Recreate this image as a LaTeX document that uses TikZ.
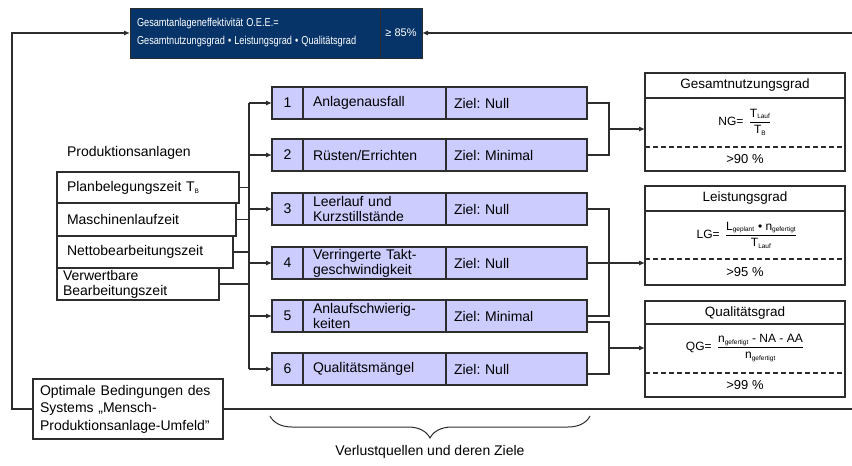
\documentclass[tikz,border=0pt]{standalone}
\usepackage{fontspec}
\usepackage{graphicx}
\setmainfont{Liberation Sans}
\usetikzlibrary{calc,decorations.pathreplacing,arrows.meta}
\definecolor{navy}{RGB}{6,52,104}
\definecolor{lav}{RGB}{204,204,255}
\definecolor{ln}{RGB}{45,45,45}
\newcommand\fsz[2]{\fontsize{#1}{#2}\selectfont}
\newcommand\sbs[1]{\mbox{\fsz{6.5}{7}#1}}
\frenchspacing
\begin{document}
\begin{tikzpicture}[x=1pt,y=-1pt,
  every node/.style={inner sep=0pt, outer sep=0pt},
  line/.style={draw=ln, line width=1.1pt},
  arr/.style={line, -{Latex[length=6pt,width=5pt]}},
  topbox/.style={draw=ln, line width=1pt, fill=navy, text=white, rectangle},
  wbox/.style={draw=ln, line width=1.1pt, fill=white, rectangle},
  lcell/.style={draw=ln, line width=1.1pt, fill=lav, rectangle, minimum height=32, anchor=north west, font=\fsz{14}{15}},
  dcell/.style={lcell, text width=123, inner xsep=10, align=left},
  zcell/.style={lcell, text width=125, inner xsep=8, align=left},
  ncell/.style={lcell, minimum width=31},
  lbox/.style={wbox, anchor=north west, align=left, font=\fsz{14}{15}},
  mtitle/.style={wbox, minimum width=200, minimum height=25, anchor=north west, font=\fsz{13.5}{15}},
  mbody/.style={wbox, minimum width=200, anchor=north west},
  ftext/.style={font=\fsz{12}{14}},
  vtext/.style={font=\fsz{13}{15}},
]
\useasboundingbox (0,0) rectangle (852,466);
\fill[white] (0,0) rectangle (852,466);

% top box
\node[topbox, minimum height=50, anchor=north west, text width=236, inner xsep=7, align=left, font=\fsz{11.5}{18}] (topL) at (130,8) {\scalebox{0.8}[1]{Gesamtanlageneffektivität O.E.E.=}\\\scalebox{0.8}[1]{Gesamtnutzungsgrad • Leistungsgrad • Qualitätsgrad}};
\node[topbox, minimum width=42, minimum height=50, anchor=north west, font=\fsz{11}{12}] (topR) at (380,8) {≥ 85\%};

% left side
\node[anchor=west, font=\fsz{14}{15}] (prod) at (67,153) {Produktionsanlagen};
\node[lbox, minimum height=31, text width=162, inner xsep=10] (lb1) at (57,172) {Planbelegungszeit T\raisebox{-2pt}{\fsz{6.5}{7}B}};
\node[lbox, minimum height=33, text width=159, inner xsep=10] (lb2) at (57,203) {Maschinenlaufzeit};
\node[lbox, minimum height=32, text width=156, inner xsep=10] (lb3) at (57,236) {Nettobearbeitungszeit};
\node[lbox, minimum height=32, text width=150, inner xsep=6] (lb4) at (57,268) {Verwertbare\\Bearbeitungszeit};

% loss rows
\node[ncell] (n1) at (272,87) {1};
\node[dcell] (d1) at (303,87) {Anlagenausfall};
\node[zcell] (z1) at (446,87) {Ziel: Null};
\node[ncell] (n2) at (272,139) {2};
\node[dcell] (d2) at (303,139) {Rüsten/Errichten};
\node[zcell] (z2) at (446,139) {Ziel: Minimal};
\node[ncell] (n3) at (272,193) {3};
\node[dcell] (d3) at (303,193) {Leerlauf und\\Kurzstillstände};
\node[zcell] (z3) at (446,193) {Ziel: Null};
\node[ncell] (n4) at (272,247) {4};
\node[dcell] (d4) at (303,247) {Verringerte Takt-\\geschwindigkeit};
\node[zcell] (z4) at (446,247) {Ziel: Null};
\node[ncell] (n5) at (272,300) {5};
\node[dcell] (d5) at (303,300) {Anlaufschwierig-\\keiten};
\node[zcell] (z5) at (446,300) {Ziel: Minimal};
\node[ncell] (n6) at (272,353) {6};
\node[dcell] (d6) at (303,353) {Qualitätsmängel};
\node[zcell] (z6) at (446,353) {Ziel: Null};

% metric boxes
\node[mtitle] (mt1) at (645,73) {Gesamtnutzungsgrad};
\node[mbody, minimum height=73] (mb1) at (645,98) {};
\node[ftext] (f1) at (745,122) {NG= \,$\displaystyle\frac{\mbox{T}_{\sbs{Lauf}}}{\mbox{T}_{\sbs{B}}}$};
\node[vtext] (v1) at (745,159) {>90 \%};
\draw[line, dashed, dash pattern=on 5pt off 3pt] (645,147) coordinate (ds1) -- (845,147) coordinate (de1);

\node[mtitle] (mt2) at (645,186) {Leistungsgrad};
\node[mbody, minimum height=74] (mb2) at (645,211) {};
\node[ftext] (f2) at (747,235) {LG= \,$\displaystyle\frac{\mbox{L}_{\sbs{geplant}}\mbox{ • n}_{\sbs{gefertigt}}}{\mbox{T}_{\sbs{Lauf}}}$};
\node[vtext] (v2) at (745,272) {>95 \%};
\draw[line, dashed, dash pattern=on 5pt off 3pt] (645,259) coordinate (ds2) -- (845,259) coordinate (de2);

\node[mtitle] (mt3) at (645,301) {Qualitätsgrad};
\node[mbody, minimum height=73] (mb3) at (645,324) {};
\node[ftext] (f3) at (745,348) {QG= \,$\displaystyle\frac{\mbox{n}_{\sbs{gefertigt}}\mbox{ - NA - AA}}{\mbox{n}_{\sbs{gefertigt}}}$};
\node[vtext] (v3) at (745,385) {>99 \%};
\draw[line, dashed, dash pattern=on 5pt off 3pt] (645,373) coordinate (ds3) -- (845,373) coordinate (de3);

% optimal conditions
\node[wbox, anchor=north west, minimum height=60, text width=176, inner xsep=7, align=left, font=\fsz{14}{17.5}] (opt) at (33,379) {Optimale Bedingungen des\\Systems „Mensch-\\Produktionsanlage-Umfeld"};

% coordinates for buses
\coordinate (bl) at (249,0);
\coordinate (br) at (609,0);
\coordinate (fl) at (12,0);
\coordinate (fr) at (870,0);

% left connectors
\foreach \b in {lb1,lb2,lb3,lb4} \draw[line] (\b.east) -- (\b.east -| bl);
\draw[line] (n1.west -| bl) -- (n6.west -| bl);
\foreach \r in {n1,n2,n3,n4,n5,n6} \draw[arr] (\r.west -| bl) -- (\r.west);

% right connectors
\draw[line] (z1.east) -- (z1.east -| br) -- (z2.east -| br) -- (z2.east);
\draw[arr] ($(z1.east -| br)!0.5!(z2.east -| br)$) coordinate (a1) -- (a1 -| mb1.west);
\draw[line] (z3.east) -- (z3.east -| br) -- (z5.east -| br) -- (z5.east);
\draw[arr] (z4.east) -- (z4.east -| mb2.west);
\draw[line] ($(z5.east)+(0,6)$) coordinate (z5b) -- (z5b -| br) -- ($(z6.east -| br)+(0,5)$) coordinate (z6b) -- (z6b -| z6.east);
\draw[arr] ($(z5b -| br)!0.5!(z6b)$) coordinate (a3) -- (a3 -| mb3.west);

% feedback loop
\draw[arr] (opt.west) -- (opt.west -| fl) -- (topL.west -| fl) -- (topL.west);
\draw[arr] (opt.east) -- (opt.east -| fr) -- (topR.east -| fr) -- (topR.east);

% brace
\draw[draw=ln, line width=1pt, decorate, decoration={brace, mirror, amplitude=22pt}] (270,416) coordinate (bs) -- (590,416) coordinate (be);
\node[font=\fsz{14}{15}] (verl) at (430,452) {Verlustquellen und deren Ziele};
\end{tikzpicture}
\end{document}
